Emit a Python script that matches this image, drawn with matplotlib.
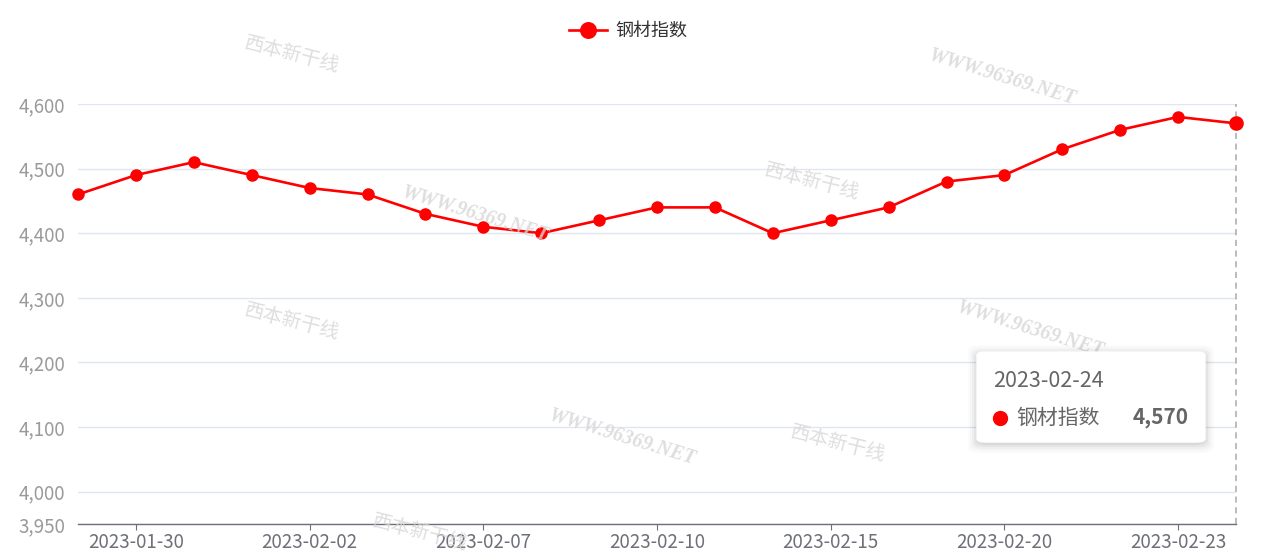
import matplotlib
matplotlib.use("Agg")
import matplotlib.pyplot as plt
from matplotlib.patches import FancyBboxPatch
from matplotlib.lines import Line2D

plt.rcParams['font.family'] = ['Noto Sans CJK SC', 'DejaVu Sans']

# 数据
dates = ['2023-01-29', '2023-01-30', '2023-01-31', '2023-02-01', '2023-02-02', '2023-02-03',
         '2023-02-06', '2023-02-07', '2023-02-08', '2023-02-09', '2023-02-10', '2023-02-13',
         '2023-02-14', '2023-02-15', '2023-02-16', '2023-02-17', '2023-02-20', '2023-02-21',
         '2023-02-22', '2023-02-23', '2023-02-24']
steel_index = [4460, 4490, 4510, 4490, 4470, 4460, 4430, 4410, 4400, 4420, 4440,
               4440, 4400, 4420, 4440, 4480, 4490, 4530, 4560, 4580, 4570]
series_name = '钢材指数'
y_ticks = [3950, 4000, 4100, 4200, 4300, 4400, 4500, 4600]

W, H = 1261, 558


def fx(px):
    return px / W


def fy(py):
    return 1 - py / H


fig = plt.figure(figsize=(W / 100, H / 100), dpi=100)
ax = fig.add_axes([fx(78), fy(524), fx(1236) - fx(78), fy(104) - fy(524)])

x = list(range(len(dates)))
red = '#ff0000'

ax.plot(x, steel_index, color=red, linewidth=1.9, marker='o', markersize=8,
        label=series_name, zorder=3, clip_on=False)
# 悬停点放大
ax.plot(x[-1], steel_index[-1], marker='o', markersize=9.5, color=red, zorder=4, clip_on=False)
# 竖直虚线指示
ax.axvline(x[-1], color='#a8a8b0', linestyle=(0, (4, 3)), linewidth=1.1, zorder=2, clip_on=False)

ax.set_xlim(0, len(dates) - 1)
ax.set_ylim(y_ticks[0], y_ticks[-1])
ax.set_yticks(y_ticks)
ax.set_yticklabels([f'{v:,}' for v in y_ticks])
tick_idx = list(range(1, len(dates), 3))
ax.set_xticks(tick_idx)
ax.set_xticklabels([dates[i] for i in tick_idx])

ax.grid(axis='y', color='#e0e6f1', linewidth=1)
ax.set_axisbelow(True)
for s in ['top', 'right', 'left']:
    ax.spines[s].set_visible(False)
ax.spines['bottom'].set_color('#6e7079')
ax.spines['bottom'].set_linewidth(1)
ax.tick_params(axis='y', length=0, pad=9, labelsize=13.5, labelcolor='#9a9a9a')
ax.tick_params(axis='x', length=4, color='#6e7079', pad=2, labelsize=13.5, labelcolor='#6e7079')

# 水印
wm_color = '#d6d6d6'
for cx, cy in [(475, 215), (1002, 78), (1030, 330), (622, 438)]:
    fig.text(fx(cx), fy(cy), 'WWW.96369.NET', fontsize=14.5, color=wm_color, alpha=0.8,
             family='Liberation Serif', style='italic', fontweight='bold',
             rotation=-17, ha='center', va='center', zorder=0)
for cx, cy in [(292, 55), (812, 182), (292, 322), (838, 444), (420, 533)]:
    fig.text(fx(cx), fy(cy), '西本新干线', fontsize=14, color=wm_color, alpha=0.8,
             rotation=-14, ha='center', va='center', zorder=0)

# 图例
ax.legend(loc='center', bbox_to_anchor=(fx(628), fy(31)), bbox_transform=fig.transFigure,
          frameon=False, fontsize=13, handlelength=2.1, handletextpad=0.45,
          markerscale=1.4, labelcolor='#333333')

# 提示框
for off, a in [(9, 0.015), (7, 0.02), (5, 0.03), (3, 0.04), (1, 0.05)]:
    sh = FancyBboxPatch((fx(977 - off), fy(442 + off + 2)),
                        fx(1205) - fx(977) + 2 * off / W, fy(352) - fy(442) + 2 * off / H,
                        boxstyle='round,pad=0,rounding_size=0.01', transform=fig.transFigure,
                        facecolor='black', edgecolor='none', alpha=a, zorder=8)
    fig.patches.append(sh)
box = FancyBboxPatch((fx(977), fy(442)), fx(1205) - fx(977), fy(352) - fy(442),
                     boxstyle='round,pad=0,rounding_size=0.006', transform=fig.transFigure,
                     facecolor='white', edgecolor='white', zorder=9)
fig.patches.append(box)
fig.text(fx(993), fy(381), dates[-1], fontsize=15.5, color='#666666', va='center', zorder=10)
fig.lines.append(Line2D([fx(1000)], [fy(418)], marker='o', markersize=10, color=red,
                        transform=fig.transFigure, zorder=10))
fig.text(fx(1016), fy(418), series_name, fontsize=15, color='#666666', va='center', zorder=10)
fig.text(fx(1189), fy(418), f'{steel_index[-1]:,}', fontsize=15, color='#666666',
         fontweight='bold', va='center', ha='right', zorder=10)

fig.savefig('out.png', dpi=100)
